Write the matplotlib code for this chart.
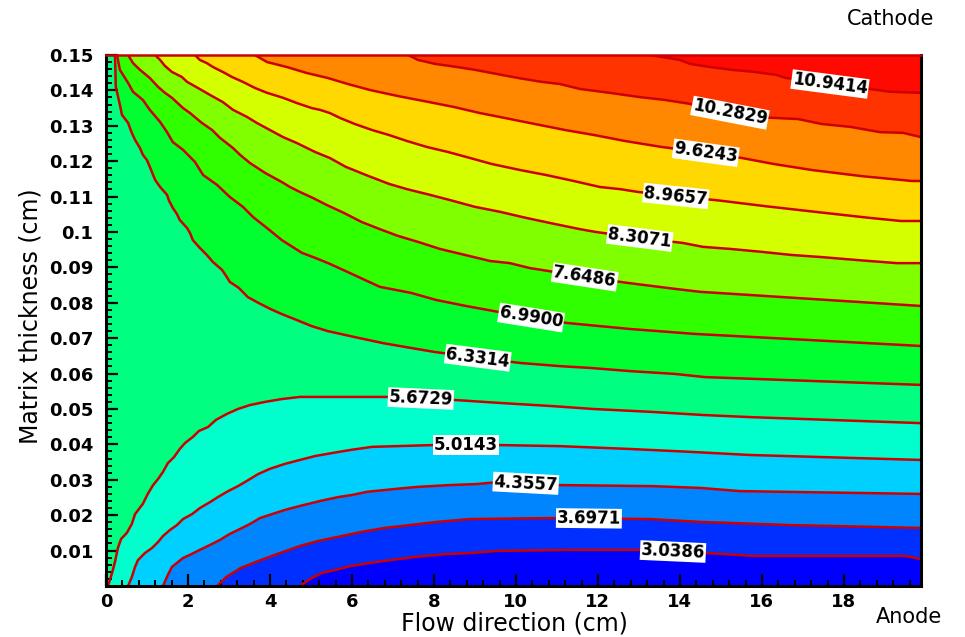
import numpy as np
import matplotlib
matplotlib.use("Agg")
import matplotlib.pyplot as plt
from matplotlib.ticker import MultipleLocator

# contour levels and the colour of each band (lowest band first)
levels = [3.0386, 3.6971, 4.3557, 5.0143, 5.6729, 6.3314, 6.9900,
          7.6486, 8.3071, 8.9657, 9.6243, 10.2829, 10.9414]
band_colors = ['#0000ff', '#0030ff', '#0085ff', '#00d0ff', '#00ffcc', '#00ff80', '#00ff30',
               '#30ff00', '#7fff00', '#d4ff00', '#ffd800', '#ff8800', '#ff3300', '#ff0a00']

# contour lines (x in cm along flow, y in cm of thickness)
x_3038 = [4.73, 4.98, 5.27, 5.59, 5.95, 6.44, 6.93, 7.54, 8.27, 8.88, 9.54, 11.32, 12.95, 14.66, 15.78, 19.49, 19.88]
y_3038 = [0.0, 0.0020, 0.0037, 0.0045, 0.0056, 0.0065, 0.0073, 0.0082, 0.0090, 0.0093, 0.0099, 0.0102, 0.0102, 0.0093, 0.0085, 0.0085, 0.0076]

x_3697 = [2.71, 2.93, 3.29, 3.66, 4.05, 4.39, 4.73, 5.17, 5.54, 5.88, 6.24, 6.80, 7.41, 8.07, 8.88, 11.00, 13.27, 14.49, 16.68, 19.88]
y_3697 = [0.0, 0.0025, 0.0051, 0.0068, 0.0085, 0.0099, 0.0113, 0.0127, 0.0136, 0.0144, 0.0153, 0.0164, 0.0172, 0.0181, 0.0189, 0.0192, 0.0189, 0.0181, 0.0172, 0.0164]

x_4355 = [1.39, 1.51, 1.61, 1.73, 1.88, 2.05, 2.29, 2.54, 2.78, 3.02, 3.27, 3.51, 3.76, 4.05, 4.37, 4.73, 5.22, 5.66, 6.00, 6.37, 7.05, 7.61, 8.39, 9.05, 9.61, 11.07, 13.34, 14.49, 15.46, 19.88]
y_4355 = [0.0, 0.0031, 0.0054, 0.0065, 0.0079, 0.0088, 0.0102, 0.0116, 0.0130, 0.0147, 0.0161, 0.0175, 0.0192, 0.0203, 0.0215, 0.0226, 0.0240, 0.0251, 0.0257, 0.0266, 0.0274, 0.0280, 0.0285, 0.0288, 0.0294, 0.0285, 0.0282, 0.0277, 0.0268, 0.0260]

x_5014 = [0.54, 0.63, 0.71, 0.78, 0.95, 1.12, 1.27, 1.39, 1.56, 1.73, 1.88, 2.10, 2.29, 2.54, 2.73, 2.98, 3.22, 3.44, 3.71, 4.00, 4.37, 4.73, 5.10, 5.54, 5.95, 6.49, 7.98, 9.61, 11.07, 12.78, 14.24, 15.71, 19.88]
y_5014 = [0.0, 0.0025, 0.0054, 0.0073, 0.0093, 0.0107, 0.0124, 0.0141, 0.0158, 0.0172, 0.0189, 0.0203, 0.0220, 0.0237, 0.0251, 0.0268, 0.0282, 0.0297, 0.0316, 0.0331, 0.0345, 0.0356, 0.0367, 0.0376, 0.0384, 0.0393, 0.0398, 0.0398, 0.0395, 0.0387, 0.0379, 0.0370, 0.0356]

x_5672 = [0.05, 0.15, 0.22, 0.29, 0.37, 0.51, 0.63, 0.71, 0.90, 1.02, 1.15, 1.27, 1.39, 1.51, 1.66, 1.80, 1.93, 2.12, 2.27, 2.49, 2.68, 2.95, 3.22, 3.51, 3.88, 4.29, 4.73, 6.85, 8.56, 9.61, 10.90, 11.88, 13.27, 14.56, 15.71, 19.88]
y_5672 = [0.0, 0.0037, 0.0068, 0.0107, 0.0133, 0.0150, 0.0175, 0.0203, 0.0232, 0.0260, 0.0285, 0.0302, 0.0322, 0.0347, 0.0364, 0.0387, 0.0404, 0.0421, 0.0438, 0.0449, 0.0469, 0.0486, 0.0500, 0.0511, 0.0520, 0.0528, 0.0534, 0.0534, 0.0525, 0.0517, 0.0508, 0.0500, 0.0492, 0.0483, 0.0477, 0.0460]

x_6331 = [0.22, 0.24, 0.34, 0.39, 0.54, 0.63, 0.71, 0.83, 0.90, 1.00, 1.07, 1.15, 1.20, 1.32, 1.49, 1.54, 1.63, 1.73, 1.80, 1.98, 2.05, 2.12, 2.29, 2.46, 2.61, 2.83, 2.93, 3.02, 3.24, 3.46, 3.73, 4.02, 4.29, 4.66, 5.02, 5.41, 6.07, 6.76, 7.46, 8.02, 9.12, 10.10, 11.07, 11.80, 12.78, 13.88, 14.61, 19.88]
y_6331 = [0.15, 0.1410, 0.1359, 0.1331, 0.1308, 0.1280, 0.1260, 0.1237, 0.1218, 0.1203, 0.1184, 0.1161, 0.1147, 0.1127, 0.1105, 0.1088, 0.1068, 0.1051, 0.1034, 0.1011, 0.0997, 0.0977, 0.0955, 0.0935, 0.0915, 0.0893, 0.0876, 0.0859, 0.0842, 0.0816, 0.0799, 0.0782, 0.0768, 0.0751, 0.0734, 0.0720, 0.0703, 0.0686, 0.0672, 0.0661, 0.0644, 0.0630, 0.0621, 0.0616, 0.0607, 0.0599, 0.0590, 0.0568]

x_6990 = [0.27, 0.34, 0.54, 0.66, 0.90, 1.07, 1.32, 1.49, 1.63, 1.88, 2.17, 2.37, 2.71, 3.02, 3.34, 3.59, 3.93, 4.29, 4.78, 5.10, 5.46, 5.95, 6.68, 7.44, 8.05, 8.78, 10.10, 11.24, 12.78, 14.37, 19.88]
y_6990 = [0.15, 0.1458, 0.1421, 0.1396, 0.1373, 0.1345, 0.1311, 0.1282, 0.1254, 0.1232, 0.1198, 0.1161, 0.1133, 0.1099, 0.1071, 0.1042, 0.1011, 0.0977, 0.0941, 0.0927, 0.0910, 0.0884, 0.0845, 0.0828, 0.0808, 0.0791, 0.0763, 0.0743, 0.0726, 0.0712, 0.0678]

x_7648 = [0.54, 0.66, 0.83, 1.07, 1.27, 1.44, 1.61, 1.88, 2.05, 2.34, 2.59, 2.78, 3.10, 3.27, 3.51, 3.88, 4.29, 4.49, 4.73, 5.05, 5.39, 5.80, 6.24, 6.68, 7.12, 7.61, 8.15, 8.76, 9.37, 9.85, 10.34, 10.78, 11.68, 12.73, 13.90, 14.49, 19.88]
y_7648 = [0.15, 0.1477, 0.1458, 0.1435, 0.1410, 0.1393, 0.1379, 0.1350, 0.1336, 0.1308, 0.1288, 0.1266, 0.1237, 0.1218, 0.1195, 0.1167, 0.1141, 0.1127, 0.1113, 0.1096, 0.1076, 0.1054, 0.1028, 0.1008, 0.0989, 0.0972, 0.0952, 0.0935, 0.0918, 0.0912, 0.0898, 0.0890, 0.0873, 0.0856, 0.0839, 0.0831, 0.0791]

x_8307 = [1.20, 1.32, 1.44, 1.61, 1.85, 1.98, 2.24, 2.54, 2.85, 3.10, 3.44, 3.68, 4.00, 4.32, 4.66, 5.10, 5.46, 5.85, 6.34, 6.90, 7.34, 7.90, 8.46, 9.00, 9.61, 10.24, 10.93, 11.56, 11.95, 13.02, 14.07, 14.56, 15.24, 15.98, 16.73, 17.46, 18.29, 19.29, 19.88]
y_8307 = [0.15, 0.1486, 0.1469, 0.1452, 0.1438, 0.1424, 0.1407, 0.1387, 0.1367, 0.1345, 0.1325, 0.1308, 0.1288, 0.1268, 0.1251, 0.1226, 0.1209, 0.1184, 0.1161, 0.1136, 0.1121, 0.1105, 0.1088, 0.1071, 0.1057, 0.1040, 0.1023, 0.1008, 0.1000, 0.0983, 0.0969, 0.0958, 0.0952, 0.0944, 0.0935, 0.0929, 0.0921, 0.0912, 0.0912]

x_8965 = [2.17, 2.29, 2.46, 2.61, 2.90, 3.07, 3.34, 3.63, 3.93, 4.32, 4.66, 5.02, 5.22, 5.46, 5.71, 6.07, 6.49, 6.90, 7.34, 7.83, 8.34, 8.88, 9.41, 10.10, 10.73, 11.41, 12.05, 12.54, 12.98, 13.88, 15.02, 16.07, 17.29, 18.61, 19.39, 19.88]
y_8965 = [0.15, 0.1486, 0.1477, 0.1466, 0.1449, 0.1438, 0.1424, 0.1407, 0.1393, 0.1379, 0.1364, 0.1350, 0.1345, 0.1336, 0.1322, 0.1305, 0.1288, 0.1274, 0.1257, 0.1240, 0.1226, 0.1209, 0.1192, 0.1175, 0.1161, 0.1144, 0.1127, 0.1121, 0.1113, 0.1102, 0.1088, 0.1073, 0.1057, 0.1040, 0.1031, 0.1031]

x_9624 = [3.63, 3.93, 4.41, 4.90, 5.41, 5.90, 6.44, 7.12, 7.88, 8.49, 9.12, 9.73, 10.46, 11.20, 11.90, 12.66, 13.56, 14.49, 15.51, 16.29, 17.22, 18.41, 19.66, 19.88]
y_9624 = [0.15, 0.1480, 0.1466, 0.1449, 0.1435, 0.1418, 0.1401, 0.1384, 0.1367, 0.1353, 0.1336, 0.1322, 0.1305, 0.1288, 0.1274, 0.1257, 0.1240, 0.1226, 0.1209, 0.1192, 0.1175, 0.1158, 0.1144, 0.1144]

x_10283 = [7.37, 7.61, 8.02, 8.56, 9.00, 9.41, 10.05, 10.63, 11.07, 11.56, 12.29, 13.02, 13.63, 14.24, 14.98, 15.78, 16.88, 17.46, 18.15, 18.88, 19.44, 19.88]
y_10283 = [0.15, 0.1486, 0.1475, 0.1466, 0.1458, 0.1449, 0.1435, 0.1424, 0.1418, 0.1404, 0.1393, 0.1381, 0.1373, 0.1362, 0.1342, 0.1325, 0.1319, 0.1305, 0.1297, 0.1282, 0.1280, 0.1268]

x_10941 = [13.27, 14.00, 14.24, 14.73, 15.27, 15.83, 16.34, 16.59, 17.66, 18.63, 19.12, 19.88]
y_10941 = [0.15, 0.1486, 0.1475, 0.1466, 0.1458, 0.1452, 0.1444, 0.1435, 0.1418, 0.1404, 0.1396, 0.1393]

# where each level's label sits along its line
label_x = [13.83, 11.78, 10.24, 8.78, 7.68, 9.07, 10.37, 11.68, 13.02, 13.90, 14.63, 15.22, 17.66]

x_ticks = [0, 2, 4, 6, 8, 10, 12, 14, 16, 18]
y_ticks = [0.01, 0.02, 0.03, 0.04, 0.05, 0.06, 0.07, 0.08, 0.09, 0.10, 0.11, 0.12, 0.13, 0.14, 0.15]
y_tick_labels = ['0.01', '0.02', '0.03', '0.04', '0.05', '0.06', '0.07', '0.08', '0.09', '0.1',
                 '0.11', '0.12', '0.13', '0.14', '0.15']

lines = [(x_3038, y_3038), (x_3697, y_3697), (x_4355, y_4355), (x_5014, y_5014), (x_5672, y_5672),
         (x_6331, y_6331), (x_6990, y_6990), (x_7648, y_7648), (x_8307, y_8307), (x_8965, y_8965),
         (x_9624, y_9624), (x_10283, y_10283), (x_10941, y_10941)]

x_max = 19.88
y_max = 0.15
line_red = '#cc0000'

fig = plt.figure(figsize=(9.65, 6.37), dpi=100)
ax = fig.add_axes([0.1098, 0.0801, 0.8446, 0.8336])
ax.set_xlim(0, x_max)
ax.set_ylim(0, y_max)
ax.set_facecolor(band_colors[5])

# lines 0-4 come up from the bottom: paint the band under each, highest first
for k in range(4, -1, -1):
    x, y = lines[k]
    ax.fill_between(x, 0, y, color=band_colors[k], lw=0)
# lines 5-12 come down from the top: paint the band above each, lowest first
for k in range(5, 13):
    x, y = lines[k]
    ax.fill_between(x, y, y_max, color=band_colors[k + 1], lw=0)
for x, y in lines:
    ax.plot(x, y, color=line_red, lw=1.8, solid_joinstyle='miter')

# labels on the lines, with white boxes
for lev, lx, (x, y) in zip(levels, label_x, lines):
    ly = np.interp(lx, x, y)
    p1 = ax.transData.transform((lx - 0.6, np.interp(lx - 0.6, x, y)))
    p2 = ax.transData.transform((lx + 0.6, np.interp(lx + 0.6, x, y)))
    ang = np.degrees(np.arctan2(p2[1] - p1[1], p2[0] - p1[0]))
    ax.text(lx, ly, f'{lev:.4f}', ha='center', va='center', rotation=ang,
            rotation_mode='anchor', fontsize=12, fontweight='bold', zorder=5,
            bbox=dict(fc='white', ec='none', pad=0.6))

ax.set_xticks(x_ticks)
ax.xaxis.set_minor_locator(MultipleLocator(0.4))
ax.set_yticks(y_ticks)
ax.set_yticklabels(y_tick_labels)
ax.yaxis.set_minor_locator(MultipleLocator(0.002))
ax.tick_params(which='both', direction='in', top=False, right=False, colors='black')
ax.tick_params(which='major', length=8.5, width=1.6, labelsize=13)
ax.tick_params(which='minor', length=4.3, width=1.4)
ax.tick_params(axis='y', pad=9)
ax.tick_params(axis='x', pad=5)
for lab in ax.get_xticklabels() + ax.get_yticklabels():
    lab.set_fontweight('bold')

for side in ['left', 'bottom', 'right']:
    ax.spines[side].set_linewidth(2.2)
    ax.spines[side].set_color('black')
ax.spines['top'].set_linewidth(1.8)
ax.spines['top'].set_color(line_red)

ax.set_xlabel('Flow direction (cm)', fontsize=17)
ax.xaxis.label.set_va('center')
ax.xaxis.set_label_coords(0.5006, -0.0716)
ax.set_ylabel('Matrix thickness (cm)', fontsize=17)
ax.yaxis.label.set_va('center')
ax.yaxis.set_label_coords(-0.092, 0.5085)

fig.text(0.923, 0.970, 'Cathode', fontsize=15, ha='center', va='center')
fig.text(0.942, 0.031, 'Anode', fontsize=15, ha='center', va='center')

fig.savefig('out.png', dpi=100)
